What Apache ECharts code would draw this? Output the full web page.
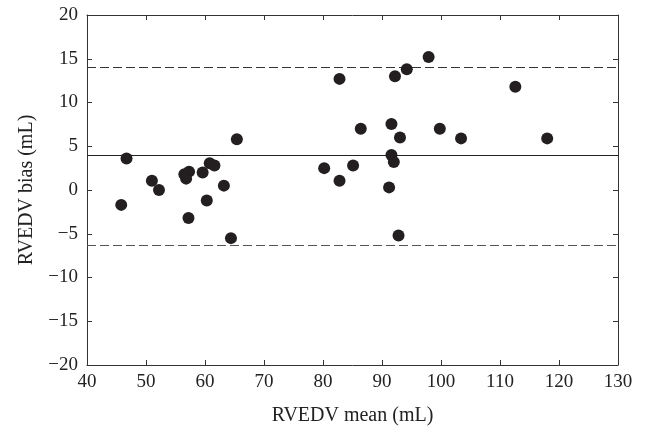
<!DOCTYPE html>
<html>
<head>
<meta charset="utf-8">
<script src="https://cdn.jsdelivr.net/npm/echarts@6/dist/echarts.min.js"></script>
<style>html,body{margin:0;padding:0;background:#fff}#c{width:649px;height:426px}</style>
</head>
<body>
<div id="c"></div>
<script>
const meanValues = [46.7, 51.0, 52.2, 45.8, 56.5, 57.3, 56.8, 59.6, 60.8, 61.6, 63.2, 60.3, 57.2, 64.4, 65.4,
  80.2, 82.8, 85.1, 82.8, 86.4, 97.9, 94.2, 92.2, 112.6, 91.6, 93.05, 99.8, 103.4, 118.0, 91.6, 92.0, 91.2, 92.8];
const biasValues = [3.6, 1.07, 0.0, -1.7, 1.8, 2.1, 1.3, 2.0, 3.05, 2.8, 0.5, -1.2, -3.2, -5.5, 5.8,
  2.5, 1.07, 2.8, 12.7, 7.0, 15.2, 13.8, 13.0, 11.8, 7.55, 6.0, 7.0, 5.9, 5.9, 4.0, 3.2, 0.3, -5.2];
const meanBias = 3.92;
const upperLimit = 14.04;
const lowerLimit = -6.37;
const xTicks = [40, 50, 60, 70, 80, 90, 100, 110, 120, 130];
const yTicks = [-20, -15, -10, -5, 0, 5, 10, 15, 20];

const points = meanValues.map((m, i) => [m, biasValues[i]]);
const font = 'Liberation Serif';
const axColor = '#333';
const baseAxis = {
  axisLine: {show: true, onZero: false, lineStyle: {color: axColor, width: 1}},
  axisTick: {show: true, inside: true, length: 5, lineStyle: {color: axColor}},
  splitLine: {show: false}
};
const chart = echarts.init(document.getElementById('c'));
chart.setOption({
  animation: false,
  backgroundColor: '#fff',
  grid: {left: 87, right: 31, top: 15, bottom: 61, containLabel: false, outerBoundsMode: 'none'},
  xAxis: [
    Object.assign({}, baseAxis, {
      type: 'value', min: xTicks[0], max: xTicks[xTicks.length - 1], interval: 10,
      position: 'bottom',
      axisLabel: {color: '#222', fontFamily: font, fontSize: 19, margin: 8},
      name: 'RVEDV mean (mL)', nameLocation: 'middle', nameGap: 41,
      nameTextStyle: {color: '#222', fontFamily: font, fontSize: 20}
    }),
    Object.assign({}, baseAxis, {
      type: 'value', min: xTicks[0], max: xTicks[xTicks.length - 1], interval: 10,
      position: 'top', axisLabel: {show: false}
    })
  ],
  yAxis: [
    Object.assign({}, baseAxis, {
      type: 'value', min: yTicks[0], max: yTicks[yTicks.length - 1], interval: 5,
      position: 'left',
      axisLabel: {color: '#222', fontFamily: font, fontSize: 19, margin: 9,
        formatter: v => v < 0 ? '\u2212' + Math.abs(v) : String(v)},
      name: 'RVEDV bias (mL)', nameLocation: 'middle', nameGap: 50,
      nameTextStyle: {color: '#222', fontFamily: font, fontSize: 20}
    }),
    Object.assign({}, baseAxis, {
      type: 'value', min: yTicks[0], max: yTicks[yTicks.length - 1], interval: 5,
      position: 'right', axisLabel: {show: false}
    })
  ],
  series: [{
    type: 'scatter',
    xAxisIndex: 0, yAxisIndex: 0,
    data: points,
    symbol: 'circle',
    symbolSize: 12,
    itemStyle: {color: '#231f20', opacity: 1},
    z: 5,
    markLine: {
      silent: true,
      symbol: 'none',
      label: {show: false},
      data: [
        {yAxis: meanBias, lineStyle: {type: 'solid', color: '#222', width: 1.2}},
        {yAxis: upperLimit, lineStyle: {type: [9, 4], color: '#333', width: 1.2}},
        {yAxis: lowerLimit, lineStyle: {type: [9, 4], color: '#555', width: 1.2}}
      ],
      z: 3
    }
  }]
});
</script>
</body>
</html>
